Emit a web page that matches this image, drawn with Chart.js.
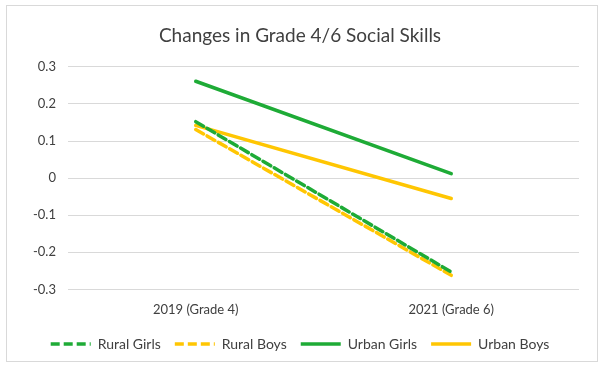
<!DOCTYPE html>
<html>
<head>
<meta charset="utf-8">
<script src="https://cdn.jsdelivr.net/npm/chart.js@4.4.0/dist/chart.umd.min.js"></script>
<style>
  body { margin: 0; background: #fff; }
  #wrap { position: absolute; left: 6px; top: 5px; width: 590px; height: 355px; border: 1px solid #d9d9d9; }
</style>
</head>
<body>
<div id="wrap"><canvas id="myChart"></canvas></div>
<script>
const categories = ['2019 (Grade 4)', '2021 (Grade 6)'];
const ruralGirls = [0.152, -0.253];
const ruralBoys = [0.131, -0.262];
const urbanGirls = [0.261, 0.012];
const urbanBoys = [0.142, -0.055];

const green = '#1EAB36';
const yellow = '#FFC602';
const font = 'Lato, "Noto Sans", sans-serif';
const dash = [9, 4];

document.addEventListener('DOMContentLoaded', () => {
    const ctx = document.getElementById('myChart').getContext('2d');
    new Chart(ctx, {
        type: 'line',
        data: {
            labels: categories,
            datasets: [
                { label: 'Rural Girls', data: ruralGirls, borderColor: green, borderDash: dash },
                { label: 'Rural Boys', data: ruralBoys, borderColor: yellow, borderDash: dash },
                { label: 'Urban Girls', data: urbanGirls, borderColor: green, borderDash: [] },
                { label: 'Urban Boys', data: urbanBoys, borderColor: yellow, borderDash: [] }
            ]
        },
        options: {
            responsive: true,
            maintainAspectRatio: false,
            animation: false,
            elements: {
                line: { borderWidth: 3.5, tension: 0, borderCapStyle: 'round' },
                point: { radius: 0, hoverRadius: 0 }
            },
            layout: { padding: { left: 14, right: 18, top: 8, bottom: 0 } },
            plugins: {
                title: {
                    display: true,
                    text: 'Changes in Grade 4/6 Social Skills',
                    color: '#404040',
                    font: { family: font, size: 19, weight: 'normal' },
                    padding: { top: 10, bottom: 20 }
                },
                legend: {
                    position: 'bottom',
                    labels: {
                        usePointStyle: true,
                        pointStyle: 'line',
                        pointStyleWidth: 40,
                        color: '#404040',
                        font: { family: font, size: 14 },
                        padding: 14,
                        generateLabels: chart => {
                            const items = Chart.defaults.plugins.legend.labels.generateLabels(chart);
                            items.forEach(item => {
                                const ds = chart.data.datasets[item.datasetIndex];
                                item.lineWidth = 3.5;
                                item.lineDash = ds.borderDash;
                                item.strokeStyle = ds.borderColor;
                                item.pointStyle = 'line';
                            });
                            return items;
                        }
                    }
                },
                tooltip: { enabled: false }
            },
            scales: {
                x: {
                    offset: true,
                    grid: { display: false },
                    border: { display: false },
                    ticks: { color: '#404040', font: { family: font, size: 13 }, padding: 5 }
                },
                y: {
                    min: -0.3,
                    max: 0.3,
                    grid: { color: '#d9d9d9', drawTicks: false },
                    border: { display: false },
                    ticks: {
                        stepSize: 0.1,
                        color: '#404040',
                        font: { family: font, size: 13 },
                        padding: 12,
                        callback: v => String(Math.round(v * 10) / 10)
                    }
                }
            }
        }
    });
});
</script>
</body>
</html>
